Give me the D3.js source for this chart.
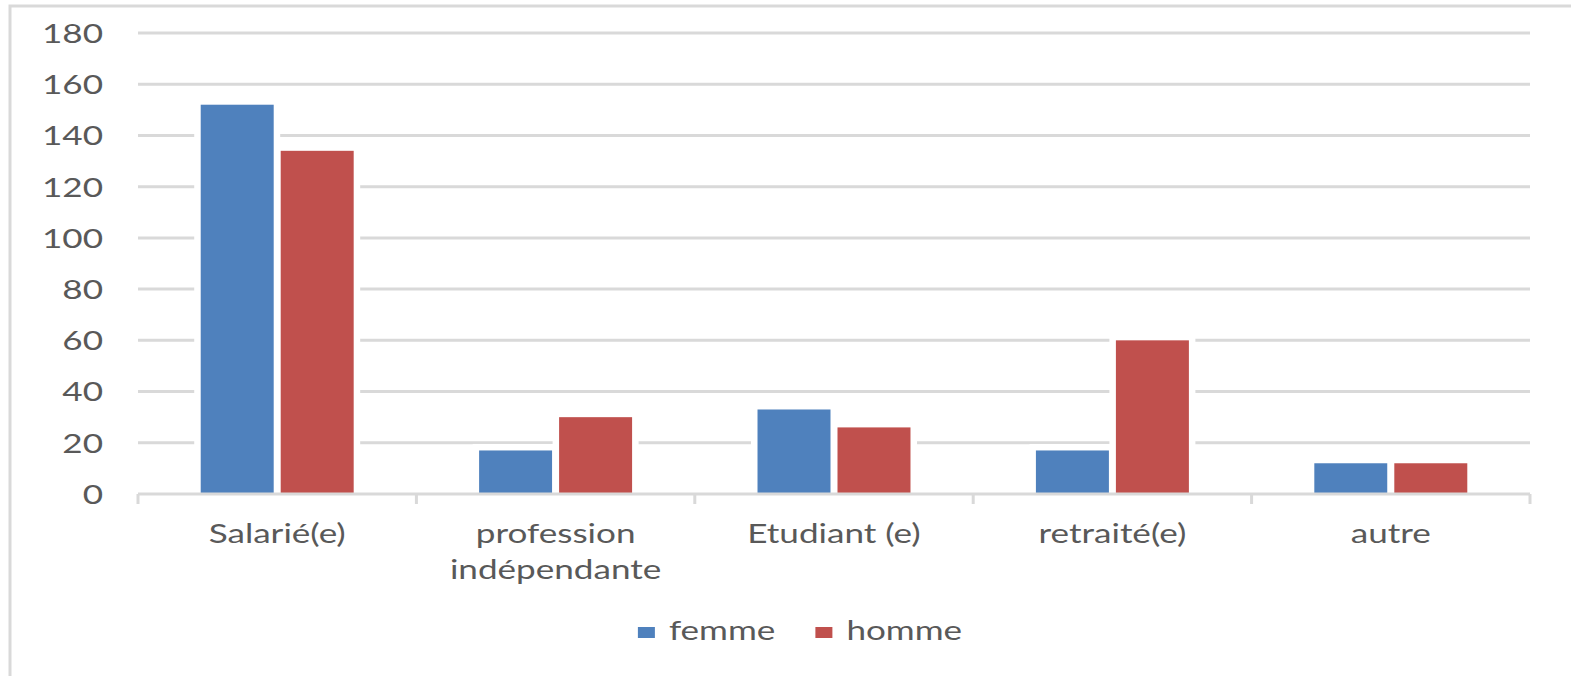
<!DOCTYPE html>
<html>
<head>
<meta charset="utf-8">
<script src="https://cdn.jsdelivr.net/npm/d3@7"></script>
<style>
 html,body{margin:0;padding:0;background:#fff;}
 svg{display:block;}
 text{font-family:Lato,"Open Sans",sans-serif;fill:#595959;}
</style>
</head>
<body>
<svg id="chart" width="1571" height="676"></svg>
<script>
// categories and series
const categories=["Salarié(e)","profession\nindépendante","Etudiant (e)","retraité(e)","autre"];
const series=["femme","homme"];
const femme=[152,17,33,17,12];
const homme=[134,30,26,60,12];
const yTicks=[0,20,40,60,80,100,120,140,160,180];
const colours={femme:"#4f81bd",homme:"#c0504d"};

const width=1571,height=676;
const stretch=1.35; // glyphs in the reference are wide, scale them horizontally
const grid="#d9d9d9";
const svg=d3.select("#chart");

// chart frame (runs off the right and bottom edges)
svg.append("rect").attr("x",10).attr("y",6).attr("width",width+20).attr("height",height+20)
 .attr("fill","#fff").attr("stroke",grid).attr("stroke-width",3);

const plot={left:138,right:1530,top:33,bottom:494};
const y=d3.scaleLinear().domain([0,180]).range([plot.bottom,plot.top]);
const x0=d3.scaleBand().domain(categories).range([plot.left,plot.right]);
const x1=d3.scaleBand().domain(series).range([0,x0.bandwidth()]).paddingInner(0.0875).paddingOuter(0.784);

const rows=categories.map((c,i)=>({category:c,femme:femme[i],homme:homme[i]}));

// gridlines
svg.append("g").selectAll("line").data(yTicks.filter(t=>t>0)).join("line")
 .attr("x1",plot.left).attr("x2",plot.right)
 .attr("y1",d=>y(d)).attr("y2",d=>y(d))
 .attr("stroke",grid).attr("stroke-width",3);

// y labels
const yAxis=svg.append("g").attr("transform",`translate(${plot.left},0)`)
 .call(d3.axisLeft(y).tickValues(yTicks).tickSize(0).tickPadding(0));
yAxis.select(".domain").remove();
yAxis.selectAll("text")
 .attr("x",-35/stretch).attr("dy","0.36em")
 .attr("transform",`scale(${stretch},1)`)
 .style("font-size","26px").style("font-family","Lato").attr("fill","#595959");

// bars, each with a white halo that cuts the gridlines
const groups=svg.append("g").selectAll("g").data(rows).join("g")
 .attr("transform",d=>`translate(${x0(d.category)},0)`);
const bars=groups.selectAll("g").data(d=>series.map(s=>({key:s,value:d[s]}))).join("g");
const halo=6.5;
bars.append("rect")
 .attr("x",d=>x1(d.key)-halo).attr("width",x1.bandwidth()+2*halo)
 .attr("y",d=>y(d.value)-halo).attr("height",d=>y(0)-y(d.value)+halo)
 .attr("fill","#fff");
bars.append("rect")
 .attr("x",d=>x1(d.key)).attr("width",x1.bandwidth())
 .attr("y",d=>y(d.value)).attr("height",d=>y(0)-y(d.value))
 .attr("fill",d=>colours[d.key]);

// category axis
const xAxis=svg.append("g");
xAxis.append("line").attr("x1",plot.left).attr("x2",plot.right)
 .attr("y1",y(0)).attr("y2",y(0)).attr("stroke",grid).attr("stroke-width",3);
const edges=categories.map(c=>x0(c)).concat([x0.range()[1]]);
xAxis.selectAll("line.tick").data(edges).join("line").attr("class","tick")
 .attr("x1",d=>d).attr("x2",d=>d).attr("y1",y(0)).attr("y2",y(0)+10)
 .attr("stroke",grid).attr("stroke-width",3);
xAxis.selectAll("text").data(categories).join("text")
 .attr("transform",d=>`translate(${x0(d)+x0.bandwidth()/2},543) scale(${stretch},1)`)
 .attr("text-anchor","middle").style("font-size","26px")
 .selectAll("tspan").data(d=>d.split("\n")).join("tspan")
 .attr("x",0).attr("dy",(d,i)=>i?36:0).text(d=>d);

// legend
const legend=svg.append("g");
const items=legend.selectAll("g").data(series).join("g");
items.append("rect").attr("y",627).attr("width",17).attr("height",11).attr("fill",d=>colours[d]);
items.append("text").attr("y",640).style("font-size","26px").text(d=>d)
 .attr("transform",`scale(${stretch},1)`);
let cursor=0;
const placed=[];
items.each(function(d){
 const w=this.querySelector("text").getComputedTextLength()*stretch;
 placed.push({node:this,at:cursor});
 cursor+=17+14+w+40;
});
const total=cursor-40;
const start=800-total/2;
placed.forEach(({node,at})=>{
 const g=d3.select(node);
 g.select("rect").attr("x",start+at);
 g.select("text").attr("x",(start+at+31)/stretch);
});
</script>
</body>
</html>
